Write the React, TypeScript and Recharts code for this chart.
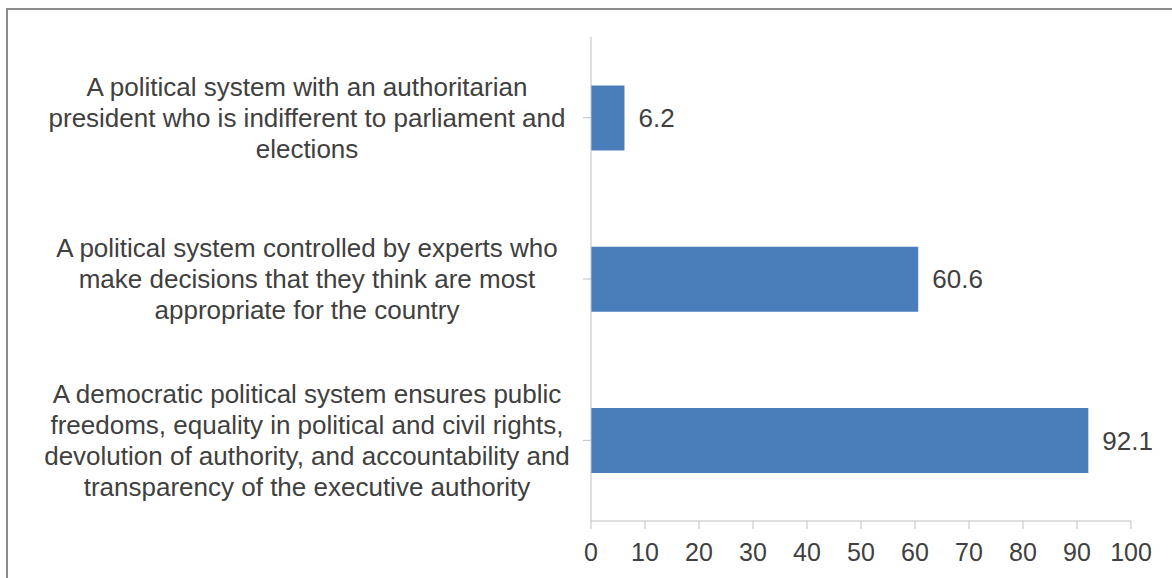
import React from "react";
import { BarChart, Bar, XAxis, YAxis, LabelList } from "recharts";

const categories: string[] = [
  "A political system with an authoritarian president who is indifferent to parliament and elections",
  "A political system controlled by experts who make decisions that they think are most appropriate for the country",
  "A democratic political system ensures public freedoms, equality in political and civil rights, devolution of authority, and accountability and transparency of the executive authority",
];

const categoryLines: string[][] = [
  ["A political system with an authoritarian", "president who is indifferent to parliament and", "elections"],
  ["A political system controlled by experts who", "make decisions that they think are most", "appropriate for the country"],
  [
    "A democratic political system ensures public",
    "freedoms, equality in political and civil rights,",
    "devolution of authority, and accountability and",
    "transparency of the executive authority",
  ],
];

const values: number[] = [6.2, 60.6, 92.1];

const xTicks: number[] = [0, 10, 20, 30, 40, 50, 60, 70, 80, 90, 100];

const data = categories.map((c, i) => ({ category: c, value: values[i] }));

const FONT = '"Liberation Sans", Arial, sans-serif';
const TEXT = "#404040";
const AXIS = "#BFBFBF";

const CategoryTick = (props: any) => {
  const { y, payload } = props;
  const idx = categories.indexOf(payload.value);
  const lines = idx >= 0 ? categoryLines[idx] : [String(payload.value)];
  const lh = 31;
  const start = -((lines.length - 1) * lh) / 2;
  return (
    <g>
      {lines.map((ln, i) => (
        <text
          key={i}
          x={307}
          y={y + start + i * lh}
          dy="0.36em"
          textAnchor="middle"
          fill={TEXT}
          fontSize={26}
          fontFamily={FONT}
        >
          {ln}
        </text>
      ))}
    </g>
  );
};

export default function App() {
  return (
    <div style={{ position: "absolute", left: 0, top: 0, width: 1172, height: 578, background: "#fff", overflow: "hidden" }}>
      <div
        style={{
          position: "absolute",
          left: 6,
          top: 8,
          width: 1200,
          height: 600,
          borderTop: "2px solid #8c8c8c",
          borderLeft: "2px solid #8c8c8c",
        }}
      />
      <div style={{ position: "absolute", left: 0, top: 0 }}>
        <BarChart
          width={1172}
          height={578}
          data={data}
          layout="vertical"
          margin={{ top: 37, right: 41, bottom: 17, left: 0 }}
          barCategoryGap="30%"
        >
          <XAxis
            type="number"
            domain={[0, 100]}
            ticks={xTicks}
            interval={0}
            height={40}
            stroke={AXIS}
            tickSize={8}
            tickMargin={14}
            tick={{ fill: TEXT, fontSize: 25, fontFamily: FONT }}
          />
          <YAxis
            type="category"
            dataKey="category"
            width={591}
            stroke={AXIS}
            tickSize={8}
            tick={<CategoryTick />}
            interval={0}
          />
          <Bar dataKey="value" fill="#4A7EBB" isAnimationActive={false}>
            <LabelList dataKey="value" position="right" offset={14} fill={TEXT} fontSize={26} fontFamily={FONT} />
          </Bar>
        </BarChart>
      </div>
    </div>
  );
}
